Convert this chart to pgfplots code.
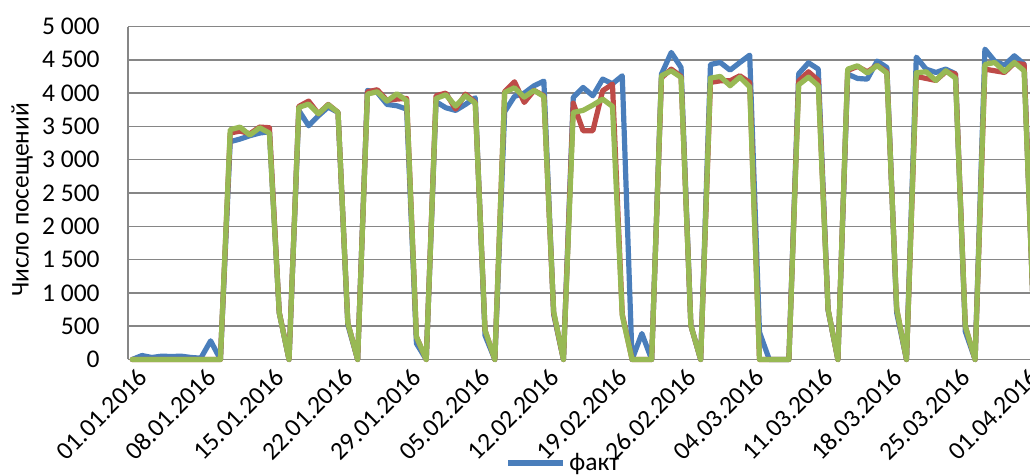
\documentclass[border=0pt]{standalone}
\usepackage{fontspec}
\setmainfont{Carlito}
\usepackage{pgfplots}
\pgfplotsset{compat=1.18}
\usepackage{pgfplotstable}
\definecolor{cblue}{RGB}{74,126,187}
\definecolor{cred}{RGB}{190,75,72}
\definecolor{cgreen}{RGB}{152,185,84}
\definecolor{gridc}{RGB}{134,134,134}

\pgfplotstableread{
d fact m1 m2
0 0 0 0
1 60 0 0
2 30 0 0
3 50 0 0
4 45 0 0
5 50 0 0
6 30 0 0
7 20 0 0
8 280 0 0
9 0 0 0
10 3270 3400 3450
11 3310 3430 3490
12 3360 3390 3370
13 3400 3490 3480
14 3420 3480 3400
15 700 710 700
16 0 0 0
17 3740 3800 3785
18 3510 3880 3835
19 3660 3690 3690
20 3790 3830 3825
21 3710 3710 3710
22 520 550 550
23 0 0 0
24 4040 4020 3985
25 4010 4050 4020
26 3830 3890 3880
27 3810 3910 3990
28 3760 3920 3890
29 240 340 340
30 0 0 0
31 3870 3960 3920
32 3780 4000 3975
33 3740 3760 3805
34 3830 3985 3960
35 3930 3860 3850
36 360 440 440
37 0 0 0
38 3720 4020 4010
39 3950 4170 4080
40 4000 3860 3940
41 4110 4040 4040
42 4180 3960 3950
43 680 700 720
44 0 0 0
45 3935 3850 3710
46 4085 3435 3740
47 3960 3435 3820
48 4210 4035 3910
49 4140 4135 3800
50 4260 680 660
51 0 0 0
52 390 0 0
53 0 0 0
54 4285 4230 4260
55 4610 4360 4335
56 4385 4250 4235
57 510 510 510
58 0 0 0
59 4430 4160 4225
60 4460 4185 4250
61 4345 4185 4110
62 4460 4260 4240
63 4570 4160 4095
64 410 0 0
65 0 0 0
66 0 0 0
67 0 0 0
68 4290 4180 4125
69 4455 4320 4240
70 4360 4190 4110
71 740 750 750
72 0 0 0
73 4285 4340 4360
74 4220 4400 4410
75 4210 4320 4300
76 4480 4415 4415
77 4385 4320 4300
78 700 760 760
79 0 0 0
80 4540 4250 4305
81 4360 4220 4320
82 4310 4190 4190
83 4360 4320 4335
84 4290 4290 4225
85 420 500 500
86 0 0 0
87 4660 4360 4430
88 4480 4335 4460
89 4420 4310 4325
90 4560 4450 4460
91 4435 4430 4335
92 500 500 500
}\data

\begin{document}
\begin{tikzpicture}[font=\fontsize{12.75}{15.3}\selectfont]
\useasboundingbox (-64pt,-58.25pt) rectangle (451pt,179.75pt);
\begin{axis}[
  at={(0pt,0pt)}, anchor=south west,
  scale only axis, width=451pt, height=166.5pt,
  xmin=-0.43, xmax=91.6, ymin=0, ymax=5000,
  clip=false,
  axis line style={draw=none},
  ymajorgrids, grid style={gridc, line width=0.75pt},
  major tick length=0pt,
  xtick={0,7,...,91},
  xticklabels={01.01.2016,08.01.2016,15.01.2016,22.01.2016,29.01.2016,05.02.2016,12.02.2016,19.02.2016,26.02.2016,04.03.2016,11.03.2016,18.03.2016,25.03.2016,01.04.2016},
  xticklabel style={rotate=45, anchor=east, inner sep=0pt, xshift=-1pt, yshift=-8.5pt},
  ytick={0,500,...,5000},
  yticklabels={0,500,1 000,1 500,2 000,2 500,3 000,3 500,4 000,4 500,5 000},
  yticklabel style={anchor=east, inner sep=0pt, xshift=-14pt},
  tick label style={font=\fontsize{12.75}{15.3}\selectfont},
  ylabel={Число посещений},
  ylabel style={at={(axis description cs:-0.1175,0.479)}, anchor=center, font=\fontsize{12.75}{15.3}\selectfont},
  legend style={at={(axis description cs:0.418,-0.311)}, anchor=west, draw=none, fill=none, inner sep=0pt, font=\fontsize{12.75}{15.3}\selectfont, nodes={inner sep=1.5pt}},
  legend image code/.code={\draw[#1, line width=3pt, line cap=butt] (0pt,0pt) -- (27.5pt,0pt);},
]
\draw[gridc, line width=0.75pt] (rel axis cs:0,0) -- (rel axis cs:0,1);
\addplot[cblue, line width=2.6pt, line join=round, line cap=round] table[x=d, y=fact] {\data};
\addlegendentry{факт}
\addplot[cred, line width=2.6pt, line join=round, line cap=round, forget plot] table[x=d, y=m1] {\data};
\addplot[cgreen, line width=2.6pt, line join=round, line cap=round, forget plot] table[x=d, y=m2] {\data};
\end{axis}
\end{tikzpicture}
\end{document}
